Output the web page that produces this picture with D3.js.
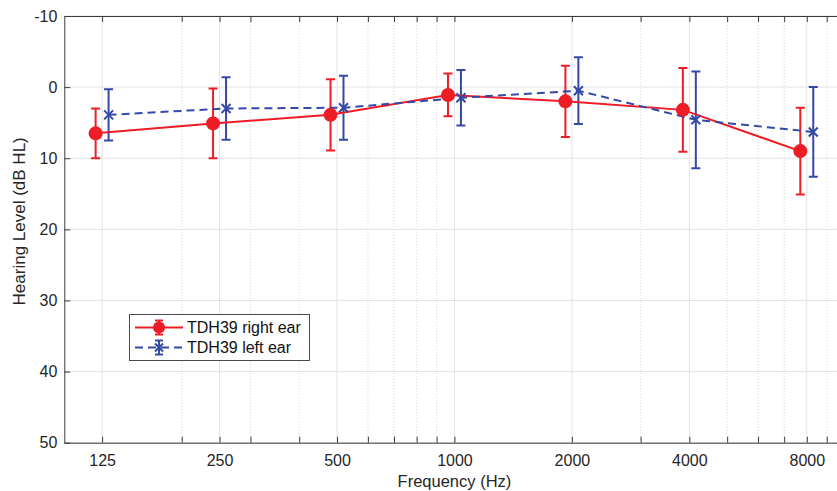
<!DOCTYPE html>
<html><head><meta charset="utf-8">
<script src="https://cdn.jsdelivr.net/npm/d3@7/dist/d3.min.js"></script>
<style>
body{margin:0;background:#fff;}
svg{display:block;font-family:"Liberation Sans",Arial,sans-serif;}
</style></head>
<body><svg id="chart" width="837" height="491"></svg>
<script>
const frequencies = [125, 250, 500, 1000, 2000, 4000, 8000];
const xTickLabels = ["125","250","500","1000","2000","4000","8000"];
const yTicks = [-10, 0, 10, 20, 30, 40, 50];
const rightMean = [6.5, 5.1, 3.9, 1.1, 2.0, 3.2, 9.0];
const rightSD   = [3.5, 4.9, 5.0, 3.0, 5.0, 5.9, 6.1];
const leftMean  = [3.9, 3.0, 2.9, 1.5, 0.5, 4.6, 6.3];
const leftSD    = [3.6, 4.4, 4.5, 3.9, 4.7, 6.8, 6.3];
const seriesNames = ["TDH39 right ear", "TDH39 left ear"];

const svg = d3.select("#chart");
const L = 64.3, R = 844.6, T = 16, B = 442.7;
const x = d3.scaleLog().domain([100, 10000]).range([L, R]);
const y = d3.scaleLinear().domain([-10, 50]).range([T, B]);
const off = 1.039;
const red = "#ee1c25", blue = "#3349a5", axisC = "#3c3c3c";
const FS = 16;

// minor log ticks
const minor = [];
[100, 1000].forEach(d => { for (let k = 2; k <= 9; k++) minor.push(d * k); });
const minorOnly = minor.filter(v => !frequencies.includes(v));
const g = svg.append("g");
svg.append("defs").append("clipPath").attr("id","clip").append("rect")
  .attr("x", L).attr("y", T).attr("width", R - L).attr("height", B - T);

// grid
g.selectAll(".gmin").data(minorOnly).join("line")
  .attr("x1", d => x(d)).attr("x2", d => x(d)).attr("y1", T).attr("y2", B)
  .attr("stroke", "#d4d4d4").attr("stroke-width", 1).attr("stroke-dasharray", "1,2");
g.selectAll(".gmaj").data(frequencies).join("line")
  .attr("x1", d => x(d)).attr("x2", d => x(d)).attr("y1", T).attr("y2", B)
  .attr("stroke", "#e3e3e3").attr("stroke-width", 1);
g.selectAll(".gy").data(yTicks).join("line")
  .attr("x1", L).attr("x2", R).attr("y1", d => y(d)).attr("y2", d => y(d))
  .attr("stroke", "#e3e3e3").attr("stroke-width", 1);

// axes via d3
const allX = frequencies.concat(minorOnly);
const xAxis = d3.axisBottom(x).tickValues(allX).tickSizeInner(-6).tickSizeOuter(0)
  .tickFormat(d => { const i = frequencies.indexOf(d); return i >= 0 ? xTickLabels[i] : ""; });
const xg = svg.append("g").attr("transform", `translate(0,${B})`).call(xAxis);
xg.select(".domain").attr("stroke", axisC);
xg.selectAll(".tick line").attr("stroke", axisC);
xg.selectAll(".tick text").attr("y", 12).attr("dy", "0.71em").attr("font-size", FS)
  .attr("fill", "#262626").attr("font-family", "Liberation Sans, Arial, sans-serif");

const xTop = d3.axisTop(x).tickValues(allX).tickSizeInner(-6).tickSizeOuter(0).tickFormat("");
const xtg = svg.append("g").attr("transform", `translate(0,${T})`).call(xTop);
xtg.select(".domain").attr("stroke", axisC);
xtg.selectAll(".tick line").attr("stroke", axisC);

const yAxis = d3.axisLeft(y).tickValues(yTicks).tickSizeInner(-6).tickSizeOuter(0).tickFormat(d => String(d));
const yg = svg.append("g").attr("transform", `translate(${L},0)`).call(yAxis);
yg.select(".domain").attr("stroke", axisC);
yg.selectAll(".tick line").attr("stroke", axisC);
yg.selectAll(".tick text").attr("x", -7).attr("font-size", FS)
  .attr("fill", "#262626").attr("font-family", "Liberation Sans, Arial, sans-serif");

const yRight = d3.axisRight(y).tickValues(yTicks).tickSizeInner(-6).tickSizeOuter(0).tickFormat("");
const yrg = svg.append("g").attr("transform", `translate(${R},0)`).call(yRight);
yrg.select(".domain").attr("stroke", axisC);
yrg.selectAll(".tick line").attr("stroke", axisC);

// labels
svg.append("text").attr("x", (L + R) / 2).attr("y", 487).attr("text-anchor", "middle")
  .attr("font-size", 16.5).attr("fill", "#262626").text("Frequency (Hz)");
svg.append("text").attr("transform", `translate(25,${(T + B) / 2 - 8}) rotate(-90)`)
  .attr("text-anchor", "middle").attr("font-size", 17).attr("fill", "#262626").text("Hearing Level (dB HL)");

// data
const plot = svg.append("g").attr("clip-path", "url(#clip)");
const right = frequencies.map((f, i) => ({ f: f / off, m: rightMean[i], s: rightSD[i] }));
const left = frequencies.map((f, i) => ({ f: f * off, m: leftMean[i], s: leftSD[i] }));
const line = d3.line().x(d => x(d.f)).y(d => y(d.m));
const cap = 4.5;

function errorbars(data, color) {
  const eg = plot.append("g").attr("stroke", color).attr("stroke-width", 2).attr("fill", "none");
  data.forEach(d => {
    const cx = x(d.f), y1 = y(d.m - d.s), y2 = y(d.m + d.s);
    eg.append("line").attr("x1", cx).attr("x2", cx).attr("y1", y1).attr("y2", y2);
    eg.append("line").attr("x1", cx - cap).attr("x2", cx + cap).attr("y1", y1).attr("y2", y1);
    eg.append("line").attr("x1", cx - cap).attr("x2", cx + cap).attr("y1", y2).attr("y2", y2);
  });
}
errorbars(right, red);
errorbars(left, blue);
plot.append("path").datum(right).attr("d", line).attr("fill", "none").attr("stroke", red).attr("stroke-width", 2);
plot.append("path").datum(left).attr("d", line).attr("fill", "none").attr("stroke", blue).attr("stroke-width", 2)
  .attr("stroke-dasharray", "8,5");
plot.selectAll(".rc").data(right).join("circle").attr("cx", d => x(d.f)).attr("cy", d => y(d.m))
  .attr("r", 7).attr("fill", red);
const xs = 4.5;
plot.selectAll(".bx").data(left).join("path")
  .attr("d", d => { const cx = x(d.f), cy = y(d.m);
    return `M${cx - xs},${cy - xs}L${cx + xs},${cy + xs}M${cx - xs},${cy + xs}L${cx + xs},${cy - xs}`; })
  .attr("stroke", blue).attr("stroke-width", 2).attr("fill", "none");

// legend
const lg = svg.append("g");
lg.append("rect").attr("x", 129.5).attr("y", 314.5).attr("width", 180).attr("height", 46)
  .attr("fill", "#fff").attr("stroke", "#4a4a4a").attr("stroke-width", 1);
const rows = [{ c: red, dash: null, name: seriesNames[0], yy: 327.5 }, { c: blue, dash: "8,5", name: seriesNames[1], yy: 347.5 }];
rows.forEach((r, i) => {
  lg.append("line").attr("x1", 135).attr("x2", 183).attr("y1", r.yy).attr("y2", r.yy)
    .attr("stroke", r.c).attr("stroke-width", 2).attr("stroke-dasharray", r.dash);
  const mx = 159;
  lg.append("line").attr("x1", mx).attr("x2", mx).attr("y1", r.yy - 7).attr("y2", r.yy + 7).attr("stroke", r.c).attr("stroke-width", 2);
  lg.append("line").attr("x1", mx - 4).attr("x2", mx + 4).attr("y1", r.yy - 7).attr("y2", r.yy - 7).attr("stroke", r.c).attr("stroke-width", 2);
  lg.append("line").attr("x1", mx - 4).attr("x2", mx + 4).attr("y1", r.yy + 7).attr("y2", r.yy + 7).attr("stroke", r.c).attr("stroke-width", 2);
  if (i === 0) lg.append("circle").attr("cx", mx).attr("cy", r.yy).attr("r", 6).attr("fill", r.c);
  else lg.append("path").attr("d", `M${mx - 4},${r.yy - 4}L${mx + 4},${r.yy + 4}M${mx - 4},${r.yy + 4}L${mx + 4},${r.yy - 4}`)
    .attr("stroke", r.c).attr("stroke-width", 2);
  lg.append("text").attr("x", 187).attr("y", r.yy).attr("dy", "0.35em").attr("font-size", 16)
    .attr("fill", "#111").text(r.name);
});
</script></body></html>
